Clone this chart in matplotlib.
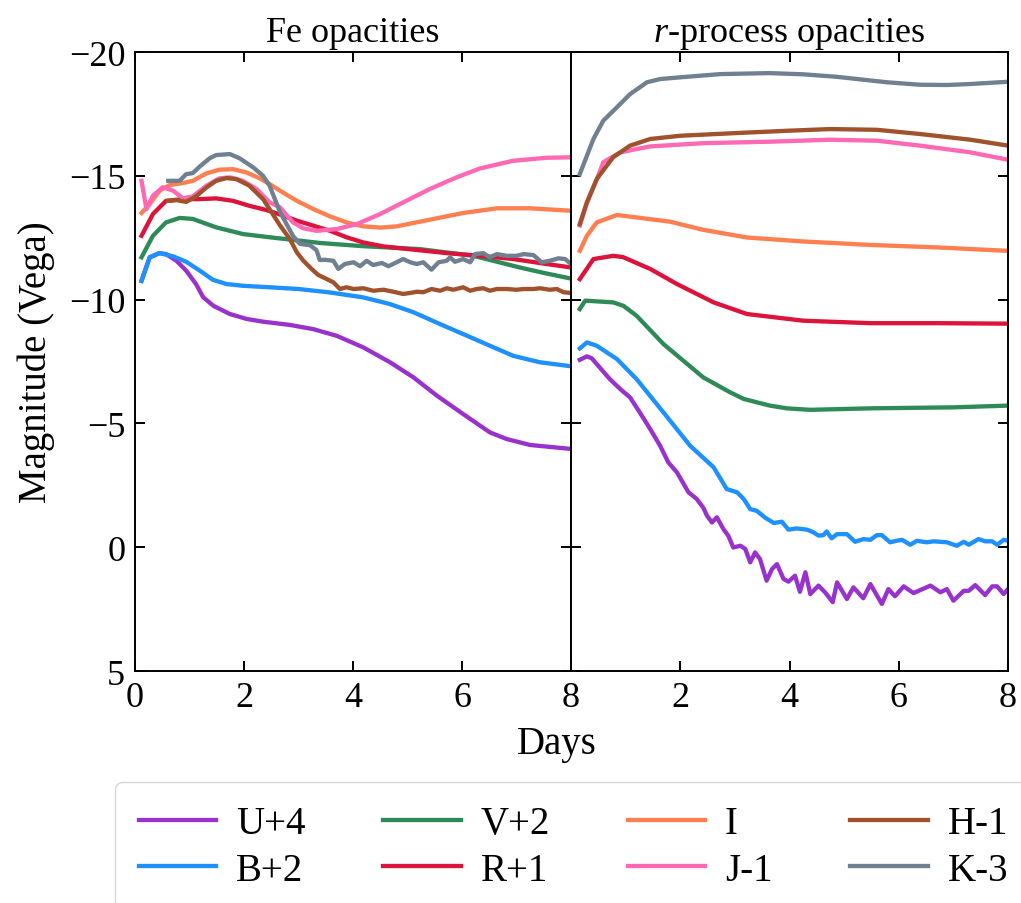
import matplotlib
matplotlib.use('Agg')
import matplotlib.pyplot as plt

plt.rcParams['font.family'] = ['Liberation Serif', 'DejaVu Serif']
plt.rcParams['mathtext.fontset'] = 'custom'
plt.rcParams['mathtext.rm'] = 'Liberation Serif'
plt.rcParams['mathtext.it'] = 'Liberation Serif:italic'

bands = ['U+4', 'B+2', 'V+2', 'R+1', 'I', 'J-1', 'H-1', 'K-3']
colors = ['darkorchid', 'dodgerblue', 'seagreen', 'crimson',
          'coral', 'hotpink', 'sienna', 'slategray']

# Fe opacities
fe_u_t = [0.12, 0.27, 0.45, 0.57, 0.76, 0.94, 1.12, 1.25, 1.44, 1.74, 2.05, 2.35, 2.84,
          3.27, 3.70, 4.19, 4.68, 5.11, 5.54, 6.02, 6.51, 6.82, 7.25, 8.0]
fe_u_m = [-10.76, -11.71, -11.88, -11.84, -11.57, -11.17, -10.63, -10.10, -9.75, -9.42, -9.22,
          -9.11, -8.98, -8.81, -8.54, -8.07, -7.47, -6.86, -6.12, -5.38, -4.64, -4.37, -4.13, -3.97]

fe_b_t = [0.12, 0.27, 0.45, 0.70, 0.94, 1.19, 1.43, 1.68, 1.98, 2.47, 3.0, 3.58, 4.19, 4.68,
          5.11, 5.60, 6.02, 6.51, 6.94, 7.43, 8.0]
fe_b_m = [-10.76, -11.71, -11.88, -11.75, -11.53, -11.17, -10.80, -10.63, -10.56, -10.50, -10.43,
          -10.29, -10.09, -9.82, -9.49, -9.01, -8.61, -8.14, -7.73, -7.47, -7.31]

fe_v_t = [0.12, 0.33, 0.57, 0.82, 1.06, 1.49, 1.98, 2.47, 3.39, 4.18, 5.23, 6.21, 7.06, 7.5, 8.0]
fe_v_m = [-11.71, -12.58, -13.12, -13.30, -13.26, -12.92, -12.65, -12.52, -12.29, -12.16, -12.04,
          -11.77, -11.30, -11.08, -10.85]

fe_r_t = [0.12, 0.33, 0.57, 0.88, 1.19, 1.49, 1.80, 2.10, 2.41, 2.66, 2.97, 3.27, 3.58, 3.88,
          4.19, 4.56, 5.11, 5.72, 6.33, 6.94, 7.55, 8.0]
fe_r_m = [-12.58, -13.46, -13.99, -14.06, -14.06, -14.09, -13.99, -13.79, -13.62, -13.44, -13.19,
          -12.99, -12.78, -12.52, -12.31, -12.15, -12.02, -11.88, -11.77, -11.64, -11.44, -11.30]

fe_i_t = [0.12, 0.27, 0.45, 0.64, 0.88, 1.06, 1.31, 1.55, 1.80, 2.04, 2.29, 2.47, 2.66, 2.97,
          3.27, 3.58, 3.88, 4.19, 4.50, 4.80, 5.41, 6.02, 6.64, 7.25, 8.0]
fe_i_m = [-13.50, -13.86, -14.40, -14.63, -14.71, -14.80, -15.10, -15.25, -15.27, -15.14, -14.90,
          -14.67, -14.40, -13.99, -13.66, -13.36, -13.12, -12.96, -12.91, -12.96, -13.23, -13.50,
          -13.69, -13.69, -13.59]

fe_j_t = [0.12, 0.21, 0.33, 0.51, 0.70, 0.88, 1.06, 1.31, 1.55, 1.74, 1.98, 2.23, 2.47, 2.66,
          2.90, 3.09, 3.33, 3.70, 4.07, 4.50, 4.92, 5.41, 5.90, 6.33, 6.94, 7.55, 8.0]
fe_j_m = [-14.80, -13.66, -14.20, -14.54, -14.40, -14.09, -14.17, -14.60, -14.90, -14.94, -14.80,
          -14.47, -13.93, -13.73, -13.12, -12.88, -12.78, -12.85, -13.05, -13.46, -13.93, -14.47,
          -14.94, -15.30, -15.61, -15.73, -15.75]

fe_h_t = [0.61, 0.76, 0.94, 1.12, 1.31, 1.49, 1.68, 1.86, 2.10, 2.35, 2.50, 2.66, 2.84, 2.97,
          3.09, 3.24, 3.36, 3.52, 3.64, 3.76, 3.88, 4.01, 4.19, 4.37, 4.56, 4.74, 4.92, 5.05,
          5.17, 5.29, 5.44, 5.60, 5.72, 5.84, 6.02, 6.15, 6.27, 6.39, 6.51, 6.64, 6.82, 7.00,
          7.13, 7.31, 7.43, 7.61, 7.74, 7.86, 8.0]
fe_h_m = [-13.99, -14.02, -13.95, -14.17, -14.53, -14.80, -14.91, -14.87, -14.60, -14.06, -13.55,
          -13.00, -12.45, -11.91, -11.57, -11.24, -11.00, -10.83, -10.70, -10.43, -10.50, -10.43,
          -10.46, -10.36, -10.40, -10.32, -10.23, -10.27, -10.32, -10.30, -10.43, -10.36, -10.46,
          -10.40, -10.50, -10.36, -10.43, -10.46, -10.36, -10.43, -10.43, -10.40, -10.43, -10.43,
          -10.46, -10.40, -10.43, -10.30, -10.27]

fe_k_t = [0.61, 0.82, 0.94, 1.06, 1.19, 1.37, 1.49, 1.74, 1.92, 2.17, 2.35, 2.47, 2.66, 2.90,
          3.03, 3.21, 3.33, 3.39, 3.49, 3.64, 3.73, 3.85, 4.01, 4.13, 4.25, 4.37, 4.53, 4.65,
          4.80, 4.92, 5.05, 5.17, 5.29, 5.44, 5.57, 5.72, 5.78, 5.87, 6.02, 6.15, 6.24, 6.39,
          6.51, 6.64, 6.82, 7.00, 7.13, 7.31, 7.46, 7.61, 7.77, 7.89, 8.0]
fe_k_m = [-14.80, -14.80, -15.07, -15.11, -15.38, -15.71, -15.84, -15.88, -15.71, -15.34, -15.00,
          -14.60, -13.54, -12.57, -12.25, -12.20, -12.00, -11.60, -11.61, -11.57, -11.24, -11.44,
          -11.51, -11.35, -11.57, -11.40, -11.48, -11.35, -11.51, -11.64, -11.51, -11.44, -11.51,
          -11.21, -11.51, -11.57, -11.71, -11.53, -11.64, -11.51, -11.84, -11.88, -11.71, -11.84,
          -11.77, -11.77, -11.84, -11.80, -11.51, -11.57, -11.67, -11.64, -11.44]

# r-process opacities
rp_u_t = [0.16, 0.29, 0.38, 0.71, 0.90, 1.08, 1.26, 1.45, 1.63, 1.78, 1.94, 2.15, 2.30, 2.42,
          2.49, 2.58, 2.67, 2.79, 2.88, 2.97, 3.10, 3.19, 3.28, 3.37, 3.46, 3.58, 3.68, 3.77,
          3.89, 3.98, 4.10, 4.19, 4.29, 4.38, 4.53, 4.65, 4.79, 4.87, 5.05, 5.17, 5.35, 5.48,
          5.69, 5.81, 5.93, 6.09, 6.27, 6.58, 6.76, 6.88, 7.00, 7.19, 7.28, 7.40, 7.58, 7.71,
          7.80, 7.92, 8.0]
rp_u_m = [-7.57, -7.71, -7.63, -6.79, -6.39, -6.05, -5.44, -4.77, -4.10, -3.43, -3.02, -2.22,
          -1.95, -1.60, -1.27, -1.00, -1.21, -0.73, -0.46, 0.01, -0.06, 0.07, 0.61, 0.21, 0.48,
          1.35, 0.88, 0.68, 1.28, 1.39, 1.15, 1.80, 1.01, 1.89, 1.55, 1.82, 2.22, 1.42, 2.09,
          1.62, 2.06, 1.49, 2.29, 1.69, 1.98, 1.58, 1.85, 1.55, 1.82, 1.69, 2.16, 1.76, 1.76,
          1.53, 1.93, 1.58, 1.58, 1.89, 1.69]

rp_b_t = [0.16, 0.29, 0.47, 0.84, 1.20, 1.69, 2.18, 2.61, 2.85, 3.04, 3.16, 3.28, 3.40, 3.55,
          3.71, 3.86, 3.98, 4.13, 4.32, 4.44, 4.53, 4.62, 4.68, 4.77, 4.87, 5.05, 5.20, 5.35,
          5.48, 5.60, 5.69, 5.84, 5.96, 6.06, 6.21, 6.33, 6.51, 6.64, 6.76, 6.88, 7.06, 7.19,
          7.28, 7.46, 7.58, 7.71, 7.80, 7.92, 8.0]
rp_b_m = [-8.03, -8.27, -8.14, -7.60, -6.79, -5.45, -4.10, -3.23, -2.35, -2.22, -1.95, -1.54,
          -1.47, -1.20, -0.98, -1.03, -0.71, -0.76, -0.71, -0.60, -0.47, -0.49, -0.64, -0.36,
          -0.53, -0.53, -0.22, -0.33, -0.30, -0.49, -0.49, -0.20, -0.26, -0.30, -0.10, -0.26,
          -0.20, -0.24, -0.22, -0.20, -0.06, -0.22, -0.10, -0.33, -0.24, -0.24, -0.10, -0.30,
          -0.26]

rp_v_t = [0.16, 0.26, 0.77, 0.96, 1.20, 1.69, 2.42, 2.91, 3.16, 3.64, 3.95, 4.38, 5.48, 7.0, 8.0]
rp_v_m = [-9.62, -9.96, -9.89, -9.75, -9.35, -8.21, -6.86, -6.26, -5.99, -5.72, -5.61, -5.55,
          -5.61, -5.65, -5.72]

rp_r_t = [0.16, 0.41, 0.77, 0.95, 1.45, 1.94, 2.61, 3.22, 4.25, 5.48, 6.70, 8.0]
rp_r_m = [-10.83, -11.64, -11.77, -11.72, -11.24, -10.63, -9.89, -9.42, -9.15, -9.05, -9.05, -9.03]

rp_i_t = [0.16, 0.29, 0.47, 0.84, 1.20, 1.81, 2.42, 3.22, 4.25, 5.48, 6.70, 8.0]
rp_i_m = [-11.97, -12.58, -13.12, -13.42, -13.32, -13.15, -12.82, -12.51, -12.35, -12.21,
          -12.11, -11.97]

rp_j_t = [0.16, 0.29, 0.47, 0.59, 0.90, 1.45, 2.42, 3.64, 4.74, 5.60, 6.39, 7.31, 8.0]
rp_j_m = [-13.00, -13.90, -14.85, -15.55, -15.95, -16.19, -16.32, -16.38, -16.46, -16.42,
          -16.22, -15.95, -15.65]

rp_h_t = [0.16, 0.29, 0.47, 0.77, 1.08, 1.45, 2.0, 3.04, 3.95, 4.74, 5.60, 6.39, 7.31, 8.0]
rp_h_m = [-13.05, -13.93, -14.87, -15.75, -16.22, -16.49, -16.62, -16.73, -16.82, -16.89,
          -16.86, -16.69, -16.46, -16.22]

rp_k_t = [0.16, 0.29, 0.41, 0.59, 0.84, 1.08, 1.39, 1.63, 2.0, 2.73, 3.64, 4.26, 4.87, 5.78,
          6.39, 6.88, 7.31, 8.0]
rp_k_m = [-15.07, -15.81, -16.49, -17.23, -17.77, -18.30, -18.78, -18.91, -18.98, -19.11,
          -19.15, -19.10, -19.00, -18.78, -18.68, -18.67, -18.71, -18.80]

fe_curves = [(fe_u_t, fe_u_m), (fe_b_t, fe_b_m), (fe_v_t, fe_v_m), (fe_r_t, fe_r_m),
             (fe_i_t, fe_i_m), (fe_j_t, fe_j_m), (fe_h_t, fe_h_m), (fe_k_t, fe_k_m)]
rp_curves = [(rp_u_t, rp_u_m), (rp_b_t, rp_b_m), (rp_v_t, rp_v_m), (rp_r_t, rp_r_m),
             (rp_i_t, rp_i_m), (rp_j_t, rp_j_m), (rp_h_t, rp_h_m), (rp_k_t, rp_k_m)]

fig = plt.figure(figsize=(10.21, 9.04), dpi=100)
ax1 = fig.add_axes([0.1322, 0.2566, 0.4271, 0.6847])
ax2 = fig.add_axes([0.5593, 0.2566, 0.4280, 0.6847], sharey=ax1)

for (t, m), c, lab in zip(fe_curves, colors, bands):
    ax1.plot(t, m, color=c, lw=3.1, label=lab)
for (t, m), c in zip(rp_curves, colors):
    ax2.plot(t, m, color=c, lw=3.1)

for ax in (ax1, ax2):
    ax.set_xlim(0, 8)
    ax.set_xticks([0, 2, 4, 6, 8])
    ax.tick_params(direction='in', top=True, right=True, length=7, width=1.4,
                   labelsize=26, pad=7)
    for sp in ax.spines.values():
        sp.set_linewidth(1.4)

ax1.set_ylim(5, -20)
ax1.set_yticks([5, 0, -5, -10, -15, -20])
ax2.tick_params(labelleft=False)
ax2.set_xticklabels(['', '2', '4', '6', '8'])

ax1.set_title('Fe opacities', fontsize=26, pad=8)
ax2.set_title(r'$r$-process opacities', fontsize=26, pad=8)
ax1.set_ylabel('Magnitude (Vega)', fontsize=28, labelpad=10)
fig.text(0.5455, 0.176, 'Days', fontsize=28, ha='center', va='center')

fig.legend(loc='upper left', bbox_to_anchor=(0.113, 0.134), ncol=4, fontsize=28,
           handlelength=2.0, columnspacing=2.0, labelspacing=0.25, borderaxespad=0,
           borderpad=0.6, handletextpad=0.5)

fig.savefig('out.png', dpi=100)
